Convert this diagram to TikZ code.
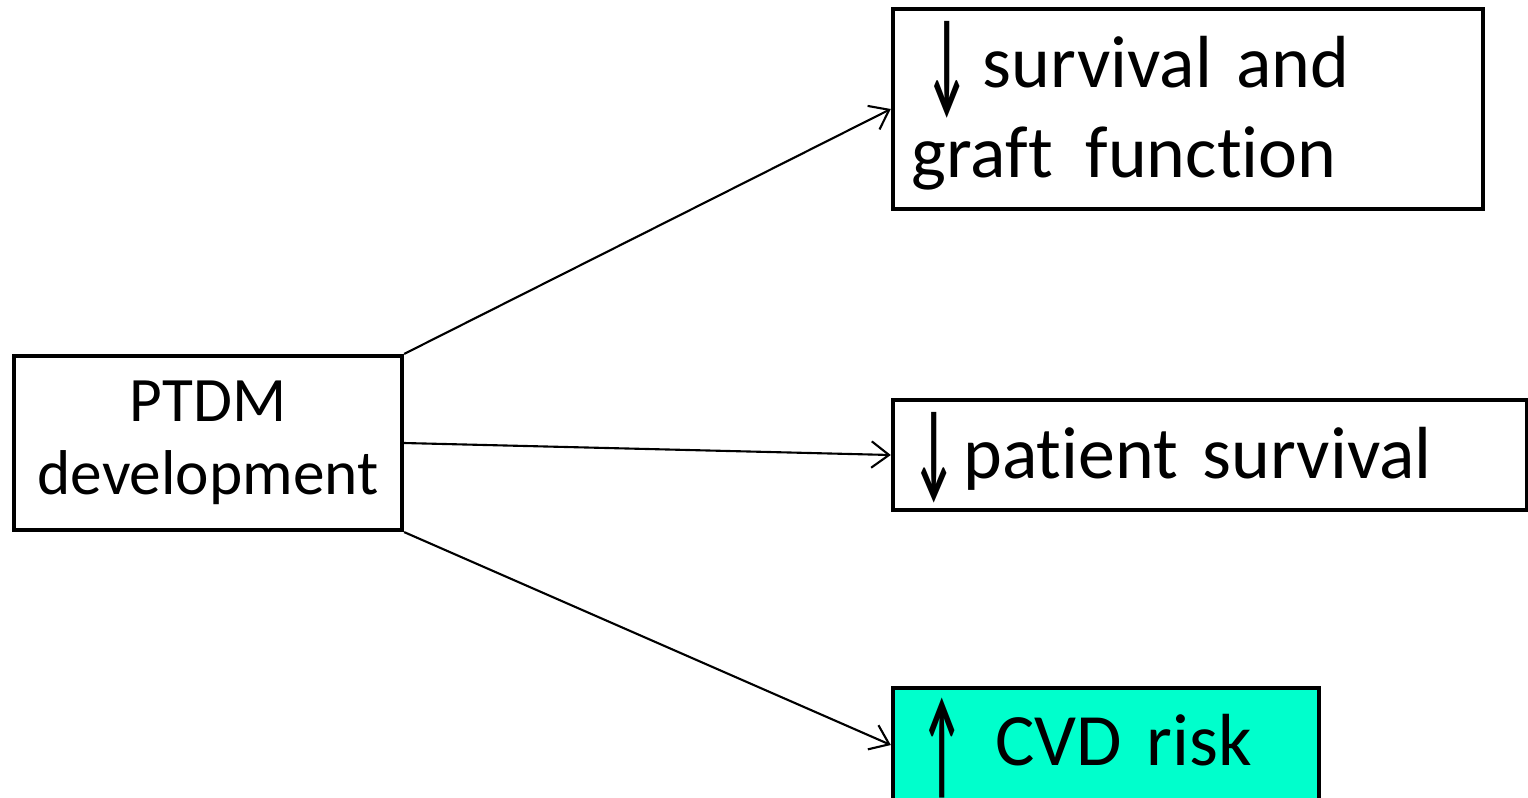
\documentclass[tikz,border=0pt]{standalone}
\usepackage{fontspec}
\usepackage{graphicx}
\setmainfont{Carlito}[Ligatures={NoCommon}]
\usetikzlibrary{arrows.meta}
\definecolor{riskcol}{RGB}{0,255,204}
\newcommand*{\bw}{1.15pt}
% narrow, tall arrow glyph: #1 glyph, #2 lowering, #3 vertical stretch
\newcommand*{\tallarr}[3]{\raisebox{-#2}{\scalebox{0.62}[#3]{\bfseries #1}}}
\tikzset{
	bbox/.style n args={3}{
		draw = black,
		line width = \bw,
		fill = #1,
		minimum width = #2,
		minimum height = #3,
		inner sep = 0pt
	},
	bigtext/.style={
		font=\fontsize{21}{25.5}\selectfont,
		align=left
	},
	link/.style={
		draw,
		line width=0.6pt,
		-{Straight Barb[length=5pt,width=7.5pt]}
	}
}

\begin{document}
\begin{tikzpicture}[x=0.01cm,y=-0.01cm]
	\useasboundingbox (0,0) rectangle (1528,797);
	% left box
	\node (ptdm) [bbox={white}{3.88cm}{1.74cm}, align=center,
		font=\fontsize{18}{20.8}\selectfont] at (208,443) {PTDM\\development};
	% right boxes
	\node (surv) [bbox={white}{5.90cm}{2.00cm}, bigtext, text width=5.52cm,
		text height=0.55cm, text depth=0.97cm] at (1188,109)
		{\kern0.15cm\tallarr{↓}{0.12cm}{1.55} \kern-0.1cm survival and\\graft \kern0.08cm function};
	\node (pat) [bbox={white}{6.34cm}{1.10cm}, bigtext, text width=5.92cm,
		text height=0.6cm, text depth=0.14cm] at (1210,455)
		{\tallarr{↓}{0.07cm}{1.45}\kern0.08cm patient survival};
	\node (cvd) [bbox={riskcol}{4.26cm}{1.14cm}, bigtext, text width=3.68cm,
		text height=0.55cm, text depth=0.15cm] at (1106,745)
		{\tallarr{↑}{0.2cm}{1.6}\kern0.32cm CVD risk};
	% links
	\draw[link] (ptdm.north east) -- (surv.west);
	\draw[link] (ptdm.east) -- (pat.west);
	\draw[link] (ptdm.south east) -- (cvd.west);
\end{tikzpicture}
\end{document}
